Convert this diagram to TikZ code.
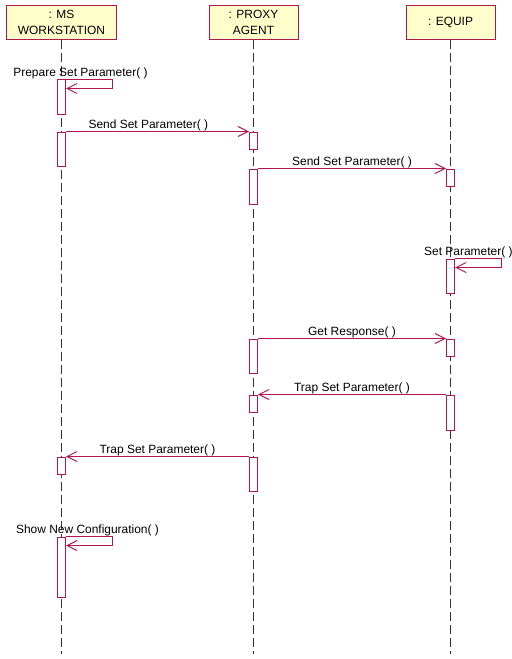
\documentclass[tikz,border=0pt]{standalone}
\usepackage{fontspec}
\setmainfont{Liberation Sans}
\usepackage{tikz}
\usetikzlibrary{arrows.meta,calc,positioning}
\definecolor{SeqRed}{HTML}{B0184A}
\definecolor{SeqYellow}{HTML}{FFFFCC}
\definecolor{SeqGray}{HTML}{333333}
\tikzset{
  >={Straight Barb[length=10bp,width=10bp]},
  msg/.style={->,line width=1bp,draw=SeqRed},
  lifeline/.style={line width=1bp,draw=SeqGray,dash pattern=on 9bp off 4bp},
  actorbox/.style={draw=SeqRed,fill=SeqYellow,line width=1bp,align=center,
    minimum height=34bp,inner sep=2pt,font=\fontsize{12}{16}\selectfont},
  actbox/.style={draw=SeqRed,fill=white,line width=1bp,anchor=north,
    minimum width=8bp,inner sep=0pt},
  msglabel/.style={font=\fontsize{12}{14}\selectfont,inner sep=0.5pt}
}

\begin{document}
\begin{tikzpicture}[x=1bp,y=-1bp]
  \useasboundingbox (0,0) rectangle (512,659);
  % objects
  \node[actorbox,minimum width=109bp] (ms) at (61.5,22.5) {: MS\\WORKSTATION};
  \node[actorbox,minimum width=89bp] (proxy) at (253.5,22.5) {: PROXY\\AGENT};
  \node[actorbox,minimum width=89bp] (equip) at (450.5,22.5) {: EQUIP};
  \coordinate (bottom) at (0,654);
  \foreach \obj in {ms,proxy,equip}
    \draw[lifeline] (\obj.south) -- (\obj.south |- bottom);

  % activations
  \node[actbox,minimum height=34bp] (ms1) at (61.5,79.5) {};
  \node[actbox,minimum height=34bp] (ms2) at (61.5,131.5) {};
  \node[actbox,minimum height=17bp] (ms3) at (61.5,456.5) {};
  \node[actbox,minimum height=60bp] (ms4) at (61.5,536.5) {};
  \node[actbox,minimum height=17bp] (proxy1) at (253.5,131.5) {};
  \node[actbox,minimum height=35bp] (proxy2) at (253.5,168.5) {};
  \node[actbox,minimum height=34bp] (proxy3) at (253.5,338.5) {};
  \node[actbox,minimum height=17bp] (proxy4) at (253.5,394.5) {};
  \node[actbox,minimum height=34bp] (proxy5) at (253.5,456.5) {};
  \node[actbox,minimum height=17bp] (equip1) at (450.5,168.5) {};
  \node[actbox,minimum height=34bp] (equip2) at (450.5,258.5) {};
  \node[actbox,minimum height=17bp] (equip3) at (450.5,338.5) {};
  \node[actbox,minimum height=35bp] (equip4) at (450.5,394.5) {};

  % messages
  \draw[msg] (ms1.north east) -- ++(46,0) |- ([yshift=-9bp]ms1.north east);
  \node[msglabel,anchor=south] (prepare) at ([xshift=19bp]ms1.north) {Prepare Set Parameter( )};
  \draw[msg] (ms2.north east) -- node[msglabel,above,pos=0.45] (send1) {Send Set Parameter( )} (proxy1.north west);
  \draw[msg] (proxy2.north east) -- node[msglabel,above] (send2) {Send Set Parameter( )} (equip1.north west);
  \draw[msg] (equip2.north east) -- ++(46,0) |- ([yshift=-9bp]equip2.north east);
  \node[msglabel,anchor=south west] (setparam) at ([xshift=-27bp]equip2.north) {Set Parameter( )};
  \draw[msg] (proxy3.north east) -- node[msglabel,above] (getresp) {Get Response( )} (equip3.north west);
  \draw[msg] (equip4.north west) -- node[msglabel,above] (trap1) {Trap Set Parameter( )} (proxy4.north east);
  \draw[msg] (proxy5.north west) -- node[msglabel,above] (trap2) {Trap Set Parameter( )} (ms3.north east);
  \draw[msg] (ms4.north east) -- ++(46,0) |- ([yshift=-9bp]ms4.north east);
  \node[msglabel,anchor=south] (shownew) at ([xshift=26bp]ms4.north) {Show New Configuration( )};
\end{tikzpicture}
\end{document}
